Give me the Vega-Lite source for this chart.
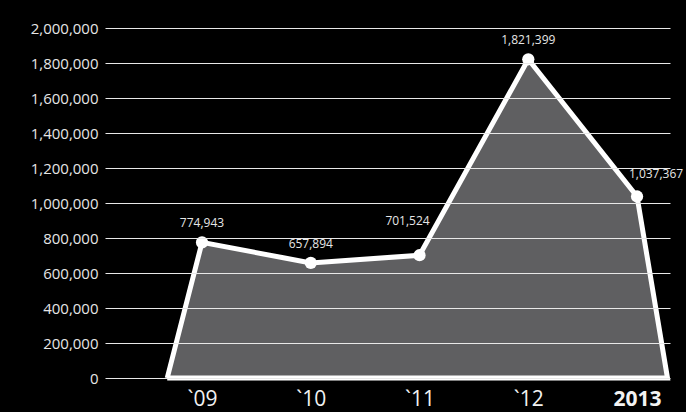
{
  "$schema": "https://vega.github.io/schema/vega-lite/v6.json",
  "autosize": "none",
  "width": 565,
  "height": 350,
  "padding": {"left": 105, "top": 28, "right": 16, "bottom": 34},
  "background": "#000000",
  "config": {"view": {"stroke": null}},
  "datasets": {
    "points": [
      {"year": 2009, "value": 774943},
      {"year": 2010, "value": 657894},
      {"year": 2011, "value": 701524},
      {"year": 2012, "value": 1821399},
      {"year": 2013, "value": 1037367}
    ],
    "outline": [
      {"i": 0, "year": 2008.68, "value": 0},
      {"i": 1, "year": 2009, "value": 774943},
      {"i": 2, "year": 2010, "value": 657894},
      {"i": 3, "year": 2011, "value": 701524},
      {"i": 4, "year": 2012, "value": 1821399},
      {"i": 5, "year": 2013, "value": 1037367},
      {"i": 6, "year": 2013.28, "value": 0},
      {"i": 7, "year": 2008.68, "value": 0}
    ]
  },
  "encoding": {
    "x": {
      "field": "year", "type": "quantitative",
      "scale": {"domain": [2008.108, 2013.303], "nice": false, "zero": false},
      "axis": {
        "values": [2009, 2010, 2011, 2012, 2013],
        "labelExpr": "datum.value == 2013 ? '2013' : '`' + substring(toString(datum.value), 2, 4)",
        "grid": false, "ticks": false, "domain": false, "title": null,
        "labelFont": "Open Sans", "labelFontSize": 21, "labelColor": "#f2f2f2",
        "labelBaseline": "top", "labelPadding": 10,
        "labelFontWeight": {"condition": {"test": "datum.value == 2013", "value": "bold"}, "value": "normal"}
      }
    },
    "y": {
      "field": "value", "type": "quantitative",
      "scale": {"domain": [0, 2000000], "nice": false},
      "axis": {
        "values": [0, 200000, 400000, 600000, 800000, 1000000, 1200000, 1400000, 1600000, 1800000, 2000000],
        "format": ",d", "grid": true, "gridColor": "#e8e8e8", "gridWidth": 1,
        "domain": false, "ticks": false, "title": null, "zindex": 1, "labelOverlap": false,
        "labelFont": "Open Sans", "labelFontSize": 15, "labelColor": "#e6e6e6", "labelPadding": 7
      }
    }
  },
  "layer": [
    {
      "data": {"name": "outline"},
      "transform": [{"filter": "datum.i < 7"}],
      "mark": {"type": "area", "color": "#5f5f61", "line": false}
    },
    {
      "data": {"name": "outline"},
      "mark": {"type": "line", "color": "#ffffff", "strokeWidth": 5, "strokeJoin": "miter"},
      "encoding": {
        "order": {"field": "i", "type": "quantitative"}
      }
    },
    {
      "data": {"name": "points"},
      "mark": {"type": "point", "filled": true, "color": "#ffffff", "opacity": 1, "size": 150}
    },
    {
      "data": {"name": "points"},
      "transform": [{"filter": "datum.year != 2011 && datum.year != 2013"}],
      "mark": {"type": "text", "dy": -19, "font": "Open Sans", "fontSize": 12, "color": "#e6e6e6"},
      "encoding": {
        "text": {"field": "value", "type": "quantitative", "format": ",d"}
      }
    },
    {
      "data": {"name": "points"},
      "transform": [{"filter": "datum.year == 2011"}],
      "mark": {"type": "text", "dy": -34, "dx": -12, "font": "Open Sans", "fontSize": 12, "color": "#e6e6e6"},
      "encoding": {
        "text": {"field": "value", "type": "quantitative", "format": ",d"}
      }
    },
    {
      "data": {"name": "points"},
      "transform": [{"filter": "datum.year == 2013"}],
      "mark": {"type": "text", "dy": -22, "dx": 19, "font": "Open Sans", "fontSize": 12, "color": "#e6e6e6"},
      "encoding": {
        "text": {"field": "value", "type": "quantitative", "format": ",d"}
      }
    }
  ]
}
